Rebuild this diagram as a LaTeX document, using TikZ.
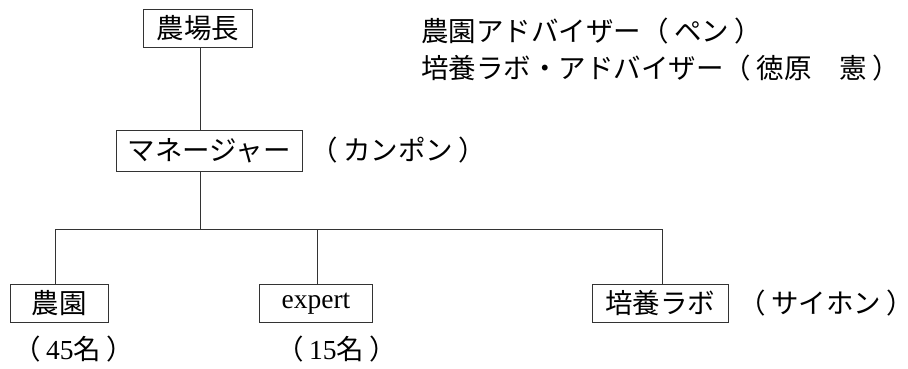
\documentclass[tikz,border=0pt]{standalone}
\usepackage{fontspec}
\setmainfont{Liberation Serif}
\newfontfamily\cjk{Noto Sans CJK JP}
\newcommand{\lpar}{{\cjk （}\hspace{0.2em}}
\newcommand{\rpar}{\hspace{0.2em}\makebox[0.4em][l]{\cjk ）}}
\begin{document}
\begin{tikzpicture}[x=1pt,y=-1pt,
  box/.style={draw=black!80, line width=0.9pt, inner sep=0pt, anchor=north west},
  lbl/.style={inner sep=0pt, anchor=west},
  conn/.style={draw=black!80, line width=0.9pt},
  font=\fontsize{27.5}{32}\selectfont]
\useasboundingbox (0,0) rectangle (908,368);
% boxes
\node[box, minimum width=109pt, minimum height=38pt] (boss) at (143,9) {\cjk 農場長};
\node[box, minimum width=186pt, minimum height=41pt] (mgr) at (116,130) {\cjk マネージャー};
\node[box, minimum width=98pt, minimum height=38pt] (farm) at (10,284) {\cjk 農園};
\node[box, minimum width=113pt, minimum height=38pt] (exp) at (259,284) {expert};
\node[box, minimum width=136pt, minimum height=38pt] (lab) at (592,284) {\cjk 培養ラボ};
% labels
\node[lbl] (adv1) at (421,31) {\cjk 農園アドバイザー\lpar ペン\rpar};
\node[lbl] (adv2) at (421,68) {\cjk 培養ラボ・アドバイザー\lpar 徳原　憲\rpar};
\node[lbl] (mgrn) at (310,150) {\lpar{\cjk カンポン}\rpar};
\node[lbl] (labn) at (738,303) {\lpar{\cjk サイホン}\rpar};
\node[lbl] (farmn) at (13,349) {\lpar 45{\cjk 名}\rpar};
\node[lbl] (expn) at (276,349) {\lpar 15{\cjk 名}\rpar};
% connectors
\coordinate (trunk) at (200,229);
\coordinate (barL) at (55,229);
\coordinate (barM) at (317,229);
\coordinate (barR) at (662,229);
\draw[conn] (boss.south -| trunk) -- (mgr.north -| trunk);
\draw[conn] (mgr.south -| trunk) -- (trunk);
\draw[conn] (barL) -- (barR);
\draw[conn] (barL) -- (farm.north -| barL);
\draw[conn] (barM) -- (exp.north -| barM);
\draw[conn] (barR) -- (lab.north -| barR);
\end{tikzpicture}
\end{document}
